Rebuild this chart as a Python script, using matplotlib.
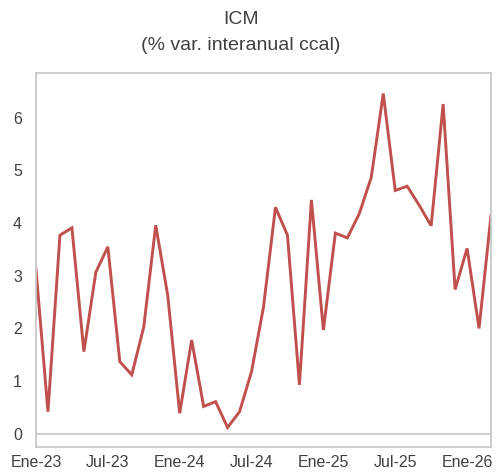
import matplotlib
matplotlib.use("Agg")
import matplotlib.pyplot as plt
import numpy as np

plt.rcParams['font.family'] = ['Liberation Sans', 'DejaVu Sans']

# monthly, Ene-23 .. Mar-26
values = [3.12, 0.42, 3.77, 3.91, 1.56, 3.07, 3.55, 1.37, 1.12, 2.03,
          3.96, 2.63, 0.39, 1.78, 0.52, 0.61, 0.12, 0.42, 1.18, 2.41,
          4.30, 3.77, 0.93, 4.44, 1.97, 3.81, 3.72, 4.18, 4.87, 6.46,
          4.62, 4.70, 4.34, 3.95, 6.26, 2.74, 3.52, 2.00, 4.15]
tick_labels = ['Ene-23', 'Jul-23', 'Ene-24', 'Jul-24', 'Ene-25', 'Jul-25', 'Ene-26']
y_ticks = [0, 1, 2, 3, 4, 5, 6]

text_col = '#404040'
grid_col = '#c8c8c8'

fig = plt.figure(figsize=(4.97, 4.73), dpi=100)
ax = fig.add_axes([0.0724, 0.055, 0.9156, 0.7907])

x = np.arange(len(values))
ax.plot(x, values, color='#c0504d', linewidth=2.1, solid_joinstyle='miter')
ax.axhline(0, color=grid_col, linewidth=1.3, zorder=0)

ax.set_xlim(0, len(values) - 1)
ax.set_ylim(-0.25, 6.85)
ax.set_xticks(np.arange(0, len(values), 6))
ax.set_xticklabels(tick_labels)
ax.set_yticks(y_ticks)
ax.tick_params(length=0, labelsize=11.5, colors=text_col)
ax.tick_params(axis='y', pad=10)
ax.tick_params(axis='x', pad=6)
for s in ax.spines.values():
    s.set_color(grid_col)
    s.set_linewidth(1.3)

fig.text(0.485, 0.958, 'ICM', ha='center', va='center', fontsize=14, color=text_col)
fig.text(0.485, 0.903, '(% var. interanual ccal)', ha='center', va='center',
         fontsize=14, color=text_col)

fig.savefig('out.png', dpi=100)
